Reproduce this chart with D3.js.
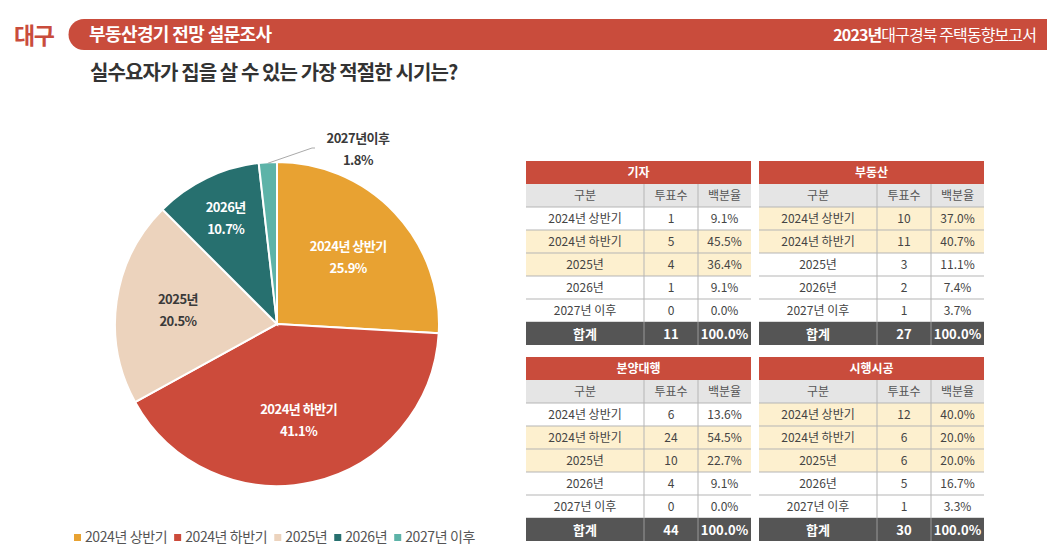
<!DOCTYPE html>
<html>
<head>
<meta charset="utf-8">
<script src="https://cdn.jsdelivr.net/npm/d3@7"></script>
<style>
  body { margin: 0; background: #fff; }
  svg text { font-family: "Noto Sans CJK KR", "Noto Sans", sans-serif; }
</style>
</head>
<body>
<div id="chart"></div>
<script>
// data
var categories = ["2024년 상반기", "2024년 하반기", "2025년", "2026년", "2027년 이후"];
var pieShares = [25.9, 41.1, 20.5, 10.7, 1.8];
var pieColors = ["#e8a232", "#cc4b3b", "#ecd3bd", "#27706f", "#5db3a8"];

var groupNames = ["기자", "부동산", "분양대행", "시행시공"];
var reporterVotes = [1, 5, 4, 1, 0];
var realtorVotes = [10, 11, 3, 2, 1];
var agencyVotes = [6, 24, 10, 4, 0];
var builderVotes = [12, 6, 6, 5, 1];
var columnLabels = ["구분", "투표수", "백분율"];

var W = 1047, H = 559;
var red = "#c94c3c";

var svg = d3.select("#chart").append("svg")
  .attr("width", W).attr("height", H);

// ---- header ----
svg.append("text").attr("x", 14).attr("y", 44)
  .attr("font-size", 23).attr("font-weight", 700).attr("fill", red)
  .attr("letter-spacing", -1.5)
  .text("대구");

svg.append("path")
  .attr("d", "M84,19 H1047 V50 H84 A15.5,15.5 0 0 1 84,19 Z")
  .attr("fill", red);

svg.append("text").attr("x", 89).attr("y", 41)
  .attr("font-size", 18).attr("font-weight", 700).attr("fill", "#fff")
  .attr("letter-spacing", -0.6)
  .text("부동산경기 전망 설문조사");

var rt = svg.append("text").attr("x", 1036).attr("y", 41)
  .attr("text-anchor", "end").attr("font-size", 16).attr("fill", "#fff")
  .attr("letter-spacing", -0.9);
rt.append("tspan").attr("font-weight", 700).text("2023년");
rt.append("tspan").text("대구경북 주택동향보고서");

svg.append("text").attr("x", 90).attr("y", 80)
  .attr("font-size", 20).attr("font-weight", 700).attr("fill", "#333")
  .attr("letter-spacing", -0.9)
  .text("실수요자가 집을 살 수 있는 가장 적절한 시기는?");

// ---- pie ----
var cx = 277, cy = 324, r = 162;
var pieData = categories.map(function (c, i) {
  return { name: c, value: pieShares[i], color: pieColors[i] };
});
var pie = d3.pie().sort(null).value(function (d) { return d.value; });
var arc = d3.arc().innerRadius(0).outerRadius(r);
var arcs = pie(pieData);

var g = svg.append("g").attr("transform", "translate(" + cx + "," + cy + ")");
g.selectAll("path").data(arcs).enter().append("path")
  .attr("d", arc)
  .attr("fill", function (d) { return d.data.color; })
  .attr("stroke", "#fff").attr("stroke-width", 2);

var labelR = [98, 98, 100, 118];
arcs.forEach(function (a, i) {
  var mid = (a.startAngle + a.endAngle) / 2;
  var lx, ly, fill;
  if (i < 4) {
    lx = Math.sin(mid) * labelR[i];
    ly = -Math.cos(mid) * labelR[i];
    fill = i === 2 ? "#3a3a3a" : "#fff";
  } else {
    // outside label with leader line
    var px = Math.sin(mid) * r, py = -Math.cos(mid) * r;
    g.append("polyline")
      .attr("points", [[px, py + 1], [35, -176], [38, -176]].map(function (p) { return p.join(","); }).join(" "))
      .attr("fill", "none").attr("stroke", "#aaa").attr("stroke-width", 1);
    lx = 81; ly = -175;
    fill = "#3a3a3a";
  }
  var t = g.append("text").attr("text-anchor", "middle")
    .attr("font-size", 13).attr("font-weight", 700).attr("fill", fill)
    .attr("letter-spacing", -0.5);
  t.append("tspan").attr("x", lx).attr("y", ly - 6).text(a.data.name.replace(" 이후", "이후"));
  t.append("tspan").attr("x", lx).attr("y", ly + 16).text(a.data.value.toFixed(1) + "%");
});

// ---- legend ----
var legend = svg.append("g").attr("transform", "translate(74,537)");
var lxPos = 0;
pieData.forEach(function (d) {
  legend.append("rect").attr("x", lxPos).attr("y", -3).attr("width", 7).attr("height", 7)
    .attr("fill", d.color);
  var tx = legend.append("text").attr("x", lxPos + 11).attr("y", 5)
    .attr("font-size", 14).attr("fill", "#555").attr("letter-spacing", -0.4).text(d.name);
  lxPos += 11 + tx.node().getComputedTextLength() + 7;
});

// ---- tables ----
var groups = [
  { name: groupNames[0], votes: reporterVotes, x: 526, y: 161 },
  { name: groupNames[1], votes: realtorVotes, x: 759, y: 161 },
  { name: groupNames[2], votes: agencyVotes, x: 526, y: 357 },
  { name: groupNames[3], votes: builderVotes, x: 759, y: 357 }
];
var colW = [118, 54, 53];
var tableW = d3.sum(colW);
var rowH = 23;
var colX = [0, colW[0], colW[0] + colW[1], tableW];

groups.forEach(function (gr) {
  var t = svg.append("g").attr("transform", "translate(" + gr.x + "," + gr.y + ")");
  var total = d3.sum(gr.votes);
  var sorted = gr.votes.slice().sort(d3.descending);
  var cutoff = sorted[1];

  // title row
  t.append("rect").attr("width", tableW).attr("height", rowH).attr("fill", red);
  t.append("text").attr("x", tableW / 2).attr("y", rowH / 2 + 4.5)
    .attr("text-anchor", "middle").attr("font-size", 12).attr("font-weight", 700)
    .attr("fill", "#fff").text(gr.name);

  // column header
  t.append("rect").attr("y", rowH).attr("width", tableW).attr("height", rowH).attr("fill", "#e5e5e5");
  columnLabels.forEach(function (c, j) {
    t.append("text").attr("x", (colX[j] + colX[j + 1]) / 2).attr("y", rowH * 1.5 + 4.5)
      .attr("text-anchor", "middle").attr("font-size", 12).attr("fill", "#555").text(c);
  });

  // data rows
  gr.votes.forEach(function (v, i) {
    var y = rowH * (2 + i);
    t.append("rect").attr("y", y).attr("width", tableW).attr("height", rowH)
      .attr("fill", v >= cutoff ? "#fdf0cf" : "#fff");
    var cells = [categories[i], String(v), (v / total * 100).toFixed(1) + "%"];
    cells.forEach(function (c, j) {
      t.append("text").attr("x", (colX[j] + colX[j + 1]) / 2).attr("y", y + rowH / 2 + 4.5)
        .attr("text-anchor", "middle").attr("font-size", 12).attr("fill", "#444").text(c);
    });
    t.append("line").attr("x1", 0).attr("x2", tableW).attr("y1", y).attr("y2", y)
      .attr("stroke", "#b5b5b5").attr("stroke-width", 1);
  });

  // total row
  var ty = rowH * (2 + gr.votes.length);
  t.append("line").attr("x1", 0).attr("x2", tableW).attr("y1", ty).attr("y2", ty)
    .attr("stroke", "#b5b5b5");
  t.append("rect").attr("y", ty).attr("width", tableW).attr("height", rowH).attr("fill", "#555");
  ["합계", String(total), "100.0%"].forEach(function (c, j) {
    t.append("text").attr("x", (colX[j] + colX[j + 1]) / 2).attr("y", ty + rowH / 2 + 5)
      .attr("text-anchor", "middle").attr("font-size", 13).attr("font-weight", 700)
      .attr("fill", "#fff").text(c);
  });

  // vertical separators
  [colX[1], colX[2]].forEach(function (x) {
    t.append("line").attr("x1", x).attr("x2", x).attr("y1", rowH).attr("y2", ty)
      .attr("stroke", "#b5b5b5");
    t.append("line").attr("x1", x).attr("x2", x).attr("y1", ty).attr("y2", ty + rowH)
      .attr("stroke", "#999");
  });
});
</script>
</body>
</html>
